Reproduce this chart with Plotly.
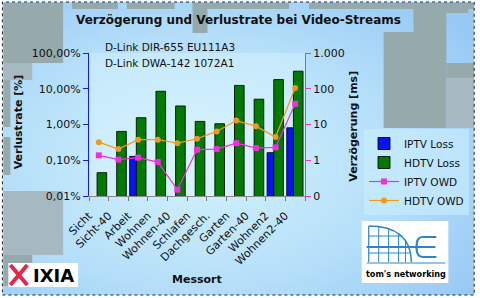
import base64
import plotly.graph_objects as go

# ---------------- data ----------------
categories = ["Sicht", "Sicht-40", "Arbeit", "Wohnen", "Wohnen-40", "Schlafen",
              "Dachgesch.", "Garten", "Garten-40", "Wohnen2", "Wohnen2-40"]
iptv_loss = [None, None, 0.128, None, None, None, None, None, None, 0.163, 0.81]   # %
hdtv_loss = [0.045, 0.64, 1.55, 8.5, 3.3, 1.22, 1.05, 12.4, 5.1, 18.0, 31.0]       # %
iptv_owd = [1.37, 1.04, 1.18, 0.89, 0.15, 1.98, 2.05, 3.0, 2.19, 2.29, 38.0]       # ms
hdtv_owd = [3.2, 2.05, 3.76, 3.76, 3.0, 4.0, 6.4, 12.9, 9.0, 4.45, 105.0]          # ms
loss_ticks = [0.01, 0.1, 1, 10, 100]
loss_labels = ["0,01%", "0,10%", "1,00%", "10,00%", "100,00%"]
owd_ticks = [0.1, 1, 10, 100, 1000]
owd_labels = ["0", "1", "10", "100", "1.000"]

# ---------------- geometry helpers ----------------
FW, FH = 480, 298
ML, MR, MT, MB = 89, 174, 53, 102
PW, PH = FW - ML - MR, FH - MT - MB
FONT = "DejaVu Sans"


def px(x):
    return (x - ML) / PW


def py(y):
    return (FH - MB - y) / PH


def rect(x0, y0, x1, y1, fill, line=None, layer="below", dash=None):
    d = dict(type="rect", xref="paper", yref="paper",
             x0=px(x0), x1=px(x1), y0=py(y1), y1=py(y0),
             fillcolor=fill, layer=layer,
             line=dict(width=0) if line is None else line)
    if dash:
        d["line"]["dash"] = dash
    return d


def seg(x0, y0, x1, y1, color, width=1.5, layer="above"):
    return dict(type="line", xref="paper", yref="paper",
                x0=px(x0), y0=py(y0), x1=px(x1), y1=py(y1),
                line=dict(color=color, width=width), layer=layer)


def path(d, color, width=1.5):
    return dict(type="path", xref="paper", yref="paper", path=d,
                line=dict(color=color, width=width), layer="above")


def P(x, y):
    return f"{px(x):.5f},{py(y):.5f}"


# ---------------- traces ----------------
fig = go.Figure()
fig.add_trace(go.Bar(x=categories, y=iptv_loss, name="IPTV Loss",
                     marker=dict(color="#0a14f0", line=dict(color="rgba(0,0,0,0.85)", width=1)),
                     offset=-0.43, width=0.46))
fig.add_trace(go.Bar(x=categories, y=hdtv_loss, name="HDTV Loss",
                     marker=dict(color="#007a00", line=dict(color="rgba(0,0,0,0.85)", width=1)),
                     offset=-0.09, width=0.49))
fig.add_trace(go.Scatter(x=categories, y=iptv_owd, name="IPTV OWD", yaxis="y2",
                         mode="lines+markers",
                         line=dict(color="#f030e0", width=1.2),
                         marker=dict(symbol="square", size=6, color="#f030e0")))
fig.add_trace(go.Scatter(x=categories, y=hdtv_owd, name="HDTV OWD", yaxis="y2",
                         mode="lines+markers",
                         line=dict(color="#f09a18", width=1.2),
                         marker=dict(symbol="circle", size=6, color="#f09a18")))

# ---------------- background ----------------
svg = ("<svg xmlns='http://www.w3.org/2000/svg' width='474' height='293' viewBox='0 0 474 293' "
       "preserveAspectRatio='none'><defs><radialGradient id='g' cx='0.42' cy='0.55' r='0.72'>"
       "<stop offset='0' stop-color='#d4f3fd'/><stop offset='0.6' stop-color='#b4def9'/>"
       "<stop offset='1' stop-color='#98c9f5'/></radialGradient></defs>"
       "<rect width='474' height='293' fill='url(#g)'/></svg>")
src = "data:image/svg+xml;base64," + base64.b64encode(svg.encode()).decode()

grey = "#96a9ab"
speck = "#a6b9c0"
shapes = [
    # grey texture patches
    rect(3, 3, 63, 63, grey),
    rect(3, 63, 32, 80, speck),
    rect(3, 80, 10, 127, grey),
    rect(3, 137, 10, 175, grey),
    rect(3, 191, 63, 255, speck),
    rect(3, 255, 32, 286, grey),
    rect(72, 3, 118, 9, grey),
    rect(127, 3, 175, 9, grey),
    rect(193, 3, 290, 9, grey),
    rect(193, 9, 208, 33, grey),
    rect(310, 3, 476, 9, grey),
    rect(415, 9, 448, 32, grey),
    rect(385, 32, 448, 128, grey),
    rect(448, 9, 470, 13, grey),
    rect(448, 63, 476, 78, grey),
    rect(448, 78, 476, 128, speck),
    # lighter plot area
    dict(type="rect", xref="paper", yref="paper", x0=0, x1=1, y0=0, y1=1,
         fillcolor="rgba(225,248,255,0.35)", line=dict(width=0), layer="below"),
    # outer dotted border
    rect(2, 2, 476, 295, "rgba(0,0,0,0)", line=dict(color="#222", width=1), layer="above", dash="dot"),
    # IXIA logo
    rect(8, 263, 78, 287, "white", layer="above"),
    seg(10, 265, 27, 285, "#e0284a", 4),
    seg(10, 285, 27, 265, "#e0284a", 4),
    # tom's networking logo
    rect(363, 221, 450, 283, "white", layer="above"),
    path("M " + P(370, 226) + " Q " + P(412, 226) + " " + P(413, 262), "#2a86c8", 1.5),
    seg(370, 226, 370, 262, "#2a86c8", 1.2),
    seg(380, 227, 380, 262, "#2a86c8", 1),
    seg(390, 229, 390, 262, "#2a86c8", 1),
    seg(400, 234, 400, 262, "#2a86c8", 1),
    seg(407, 241, 407, 262, "#2a86c8", 1),
    seg(370, 236, 404, 236, "#2a86c8", 1),
    seg(370, 253, 412, 253, "#2a86c8", 1),
    seg(368, 247, 437, 247, "#2a86c8", 2.2),
    path("M " + P(438, 237) + " L " + P(424, 237) + " Q " + P(418, 237) + " " + P(418, 247)
         + " Q " + P(418, 257) + " " + P(424, 257) + " L " + P(438, 257), "#2a86c8", 2.2),
    seg(368, 263, 447, 263, "#2a86c8", 1.2),
]

images = [dict(source=src, xref="paper", yref="paper", x=px(2), y=py(2),
               sizex=474 / PW, sizey=293 / PH, xanchor="left", yanchor="top",
               sizing="stretch", layer="below")]

annotations = [
    dict(text="<b>Verzögerung und Verlustrate bei Video-Streams</b>", x=px(239), y=py(20),
         font=dict(size=12, family=FONT, color="#111")),
    dict(text="D-Link DIR-655 EU111A3", x=px(103), y=py(47), xanchor="left",
         font=dict(size=10.5, family=FONT, color="#111")),
    dict(text="D-Link DWA-142 1072A1", x=px(103), y=py(62.5), xanchor="left",
         font=dict(size=10.5, family=FONT, color="#111")),
    dict(text="<b>Verlustrate [%]</b>", x=px(18), y=py(122), textangle=-90,
         font=dict(size=11, family=FONT, color="#111")),
    dict(text="<b>Verzögerung [ms]</b>", x=px(355), y=py(126), textangle=-90,
         font=dict(size=11, family=FONT, color="#111")),
    dict(text="<b>Messort</b>", x=px(197.5), y=py(279),
         font=dict(size=11, family=FONT, color="#111")),
    dict(text="<b>IXIA</b>", x=px(53.5), y=py(275.5),
         font=dict(size=18, family=FONT, color="#000")),
    dict(text="<b>tom's networking</b>", x=px(407), y=py(274),
         font=dict(size=9, family="DejaVu Sans Condensed", color="#000")),
]
for a in annotations:
    a.update(xref="paper", yref="paper", showarrow=False)
    a.setdefault("xanchor", "center")
    a.setdefault("yanchor", "middle")

fig.update_layout(
    width=FW, height=FH,
    margin=dict(l=ML, r=MR, t=MT, b=MB, pad=0),
    paper_bgcolor="white",
    plot_bgcolor="rgba(0,0,0,0)",
    barmode="overlay",
    font=dict(family=FONT, size=11, color="#111"),
    showlegend=True,
    legend=dict(x=px(364), y=py(129), xanchor="left", yanchor="top",
                bgcolor="rgba(200,236,253,0.65)", borderwidth=0,
                font=dict(size=10.5, family=FONT, color="#111"),
                itemwidth=30, tracegroupgap=0),
    xaxis=dict(type="category", range=[-0.5, 10.5], tickangle=-45,
               tickson="boundaries", ticks="outside", ticklen=4, tickcolor="#777",
               ticklabelstandoff=8, ticklabelshift=-10,
               showline=True, linecolor="#888", linewidth=1, showgrid=False,
               tickfont=dict(size=11, family=FONT, color="#111")),
    yaxis=dict(type="log", range=[-2, 2], tickvals=loss_ticks, ticktext=loss_labels,
               ticks="outside", ticklen=5, tickcolor="#1020e0",
               showline=True, linecolor="#1020e0", linewidth=1.2,
               showgrid=False, zeroline=False,
               tickfont=dict(size=11, family=FONT, color="#111")),
    yaxis2=dict(type="log", range=[-1, 3], overlaying="y", side="right",
                tickvals=owd_ticks, ticktext=owd_labels,
                ticks="outside", ticklen=5, tickcolor="#f030e0",
                showline=True, linecolor="#f030e0", linewidth=1.2,
                showgrid=False, zeroline=False,
                tickfont=dict(size=11, family=FONT, color="#111")),
    shapes=shapes,
    images=images,
    annotations=annotations,
)

fig.write_html("out.html")
